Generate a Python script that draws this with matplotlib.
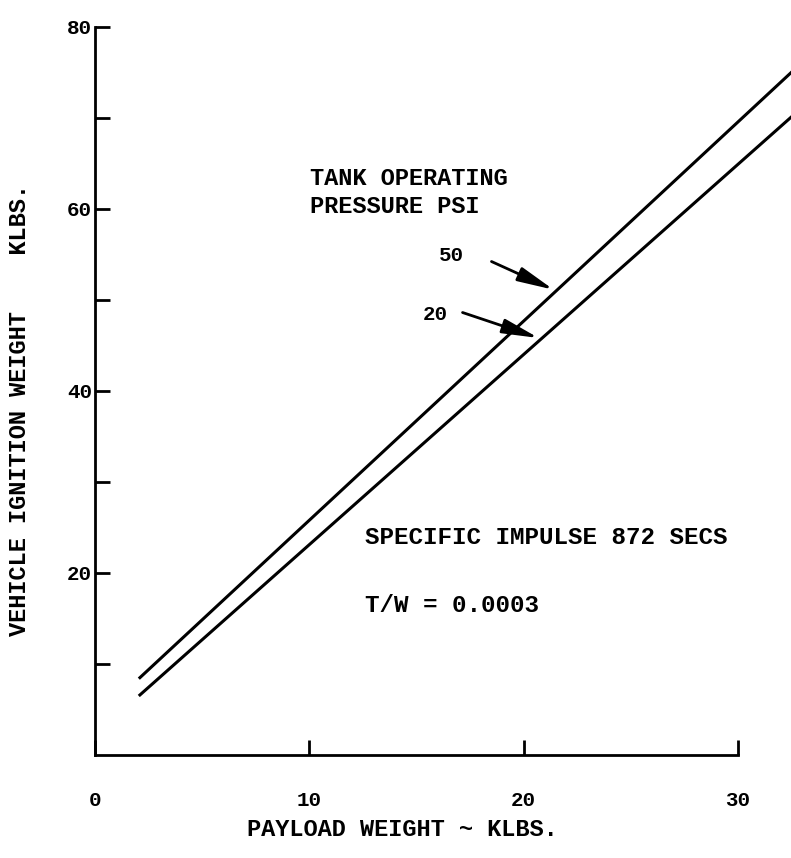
import matplotlib.pyplot as plt

# donnees (payload klbs -> vehicle weight klbs)
payload = [2.1, 32.5]
weight_50psi = [8.5, 75.0]
weight_20psi = [6.6, 70.1]

x_ticks = [0, 10, 20, 30]
y_ticks = [10, 20, 30, 40, 50, 60, 70, 80]
y_labels = ['', '20', '', '40', '', '60', '', '80']

plt.rcParams['font.family'] = ['Liberation Mono', 'DejaVu Sans Mono']
plt.rcParams['font.weight'] = 'bold'

fig = plt.figure(figsize=(7.91, 8.58), dpi=100)
ax = fig.add_axes([0.120, 0.120, 0.813, 0.849])

ax.plot(payload, weight_50psi, color='black', lw=2.2, clip_on=False)
ax.plot(payload, weight_20psi, color='black', lw=2.2, clip_on=False)

ax.set_xlim(0, 30)
ax.set_ylim(0, 80)
ax.spines['top'].set_visible(False)
ax.spines['right'].set_visible(False)
ax.spines['left'].set_linewidth(2)
ax.spines['bottom'].set_linewidth(2)

ax.set_xticks(x_ticks)
ax.set_yticks(y_ticks)
ax.set_yticklabels(y_labels)
ax.tick_params(direction='in', length=11, width=2, labelsize=15)
ax.tick_params(axis='y', pad=2)
ax.tick_params(axis='x', pad=26)

# titres des axes
fig.text(20 / 791, 1 - 410 / 858, 'VEHICLE IGNITION WEIGHT    KLBS.', fontsize=17,
         rotation=90, ha='center', va='center')
fig.text(402 / 791, 1 - 829 / 858, 'PAYLOAD WEIGHT ~ KLBS.', fontsize=17,
         ha='center', va='center')

ax.text(10.05, 61.8, 'TANK OPERATING\nPRESSURE PSI', fontsize=17, va='center', linespacing=1.3)

fleche = dict(arrowstyle='-|>,head_length=1.1,head_width=0.22', color='black', lw=2,
              mutation_scale=20, shrinkA=0, shrinkB=0)
ax.text(17.2, 54.9, '50', fontsize=15, va='center', ha='right')
ax.annotate('', xy=(21.4, 51.1), xytext=(18.5, 54.2), arrowprops=fleche)
ax.text(16.45, 48.4, '20', fontsize=15, va='center', ha='right')
ax.annotate('', xy=(20.7, 45.8), xytext=(17.15, 48.6), arrowprops=fleche)

ax.text(12.6, 23.9, 'SPECIFIC IMPULSE 872 SECS', fontsize=17.5, va='center')
ax.text(12.6, 16.4, 'T/W = 0.0003', fontsize=17.5, va='center')

plt.savefig('out.png', dpi=100)
